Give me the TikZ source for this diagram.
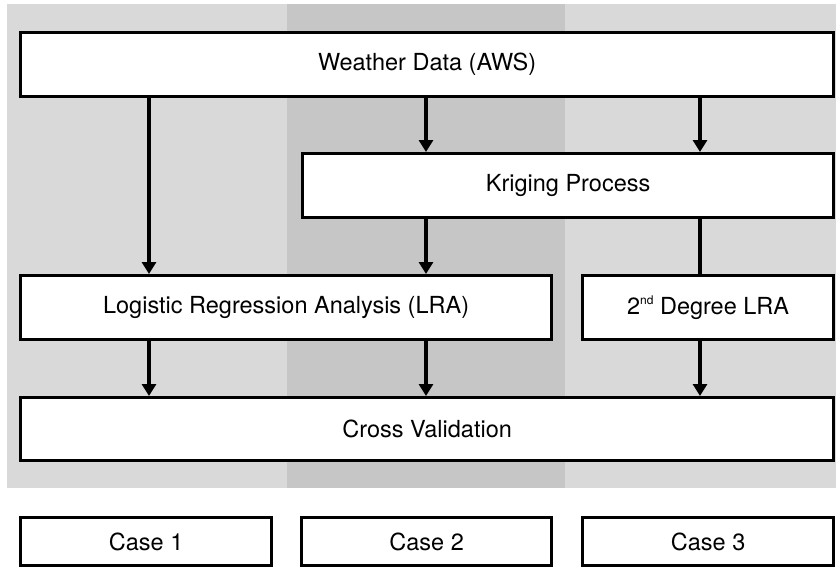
\documentclass[tikz,border=0pt]{standalone}
\usepackage{fontspec}
\setmainfont{TeX Gyre Heros}
\usetikzlibrary{arrows.meta}
\definecolor{bglight}{HTML}{D9D9D9}
\definecolor{bgdark}{HTML}{C6C6C6}
\tikzset{
  x=1pt, y=-1pt,
  procbox/.style={draw=black, fill=white, line width=3.2pt, inner sep=0pt,
    font=\fontsize{23.5}{26}\selectfont},
  flow/.style={line width=3.4pt, -{Triangle[width=14pt,length=12pt]}},
  plain/.style={line width=3.4pt},
}
\newcommand{\pbox}[6]{% name, x1, y1, x2, y2, text
  \node[procbox, minimum width={#4-#2}, minimum height={#5-#3}, anchor=north west]
    (#1) at (#2,#3) {#6};
}
\newcommand{\supsmall}[1]{\raisebox{0.75ex}{\fontsize{12}{12}\selectfont #1}}
\begin{document}
\begin{tikzpicture}
\useasboundingbox (0,0) rectangle (836,566);
\fill[white] (0,0) rectangle (836,566);
\fill[bglight] (7,4) rectangle (836,488);
\fill[bgdark] (287,4) rectangle (565,488);

\pbox{wd}{19}{31}{832}{95}{Weather Data (AWS)}
\pbox{kp}{301}{152}{832}{216}{Kriging Process}
\pbox{lra}{19}{274}{550}{338}{Logistic Regression Analysis (LRA)}
\pbox{dlra}{581}{274}{832}{338}{2\supsmall{nd} Degree LRA}
\pbox{cv}{19}{396}{832}{459}{Cross Validation}
\pbox{c1}{19}{516}{270}{564}{Case 1}
\pbox{c2}{300}{516}{550}{564}{Case 2}
\pbox{c3}{581}{516}{832}{564}{Case 3}

\draw[flow] (wd.south -| 149,0) -- (lra.north -| 149,0);
\draw[flow] (wd.south -| 426,0) -- (kp.north -| 426,0);
\draw[flow] (wd.south -| 700,0) -- (kp.north -| 700,0);
\draw[flow] (kp.south -| 426,0) -- (lra.north -| 426,0);
\draw[plain] (kp.south -| 700,0) -- (dlra.north -| 700,0);
\draw[flow] (lra.south -| 149,0) -- (cv.north -| 149,0);
\draw[flow] (lra.south -| 426,0) -- (cv.north -| 426,0);
\draw[flow] (dlra.south -| 700,0) -- (cv.north -| 700,0);
\end{tikzpicture}
\end{document}
